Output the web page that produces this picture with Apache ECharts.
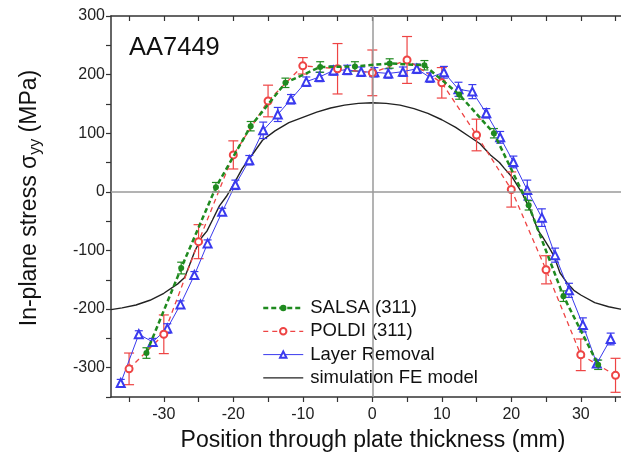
<!DOCTYPE html>
<html>
<head>
<meta charset="utf-8">
<script src="https://cdn.jsdelivr.net/npm/echarts@6/dist/echarts.min.js"></script>
<style>html,body{margin:0;padding:0;background:#fff}#c{width:621px;height:464px}</style>
</head>
<body>
<div id="c"></div>
<script>
// ---- data ----
const xTicks = [-35,-30,-25,-20,-15,-10,-5,0,5,10,15,20,25,30,35];
const xLabels = [-30,-20,-10,0,10,20,30];
const yLabels = [-300,-200,-100,0,100,200,300];

const salsaX = [-32.5,-27.5,-22.5,-17.5,-12.5,-7.5,-2.5,2.5,7.5,12.5,17.5,22.5,27.5,32.5];
const salsaY = [-275,-130,8,112,186,213,214,219,216,166,100,-23,-178,-295];
const salsaErr = [9,10,8,8,8,9,8,8,8,8,8,8,9,8];

const poldiX = [-35,-30,-25,-20,-15,-10,-5,0,5,10,15,20,25,30,35];
const poldiY = [-302,-243,-85,63,155,215,210,203,225,186,97,4,-133,-278,-313];
const poldiErr = [27,33,29,24,27,14,43,39,40,26,27,30,24,27,29];

const layerX = [-36.2,-33.6,-31.6,-29.5,-27.6,-25.6,-23.7,-21.6,-19.7,-17.7,-15.7,-13.6,-11.7,-9.5,-7.6,-5.6,-3.6,-1.6,0.3,2.3,4.4,6.4,8.3,10.3,12.4,14.4,16.4,18.4,20.3,22.3,24.4,26.3,28.3,30.3,32.3,34.3];
const layerY = [-326,-243,-256,-233,-192,-142,-88,-34,12,54,105,132,158,188,196,207,208,205,204,202,205,210,195,204,175,171,134,93,51,3,-44,-108,-168,-227,-293,-251];
const layerErr = [6,6,6,8,6,6,6,6,8,8,14,12,8,8,8,8,8,8,8,8,8,8,8,10,12,12,8,10,10,17,15,12,12,12,6,10];

const feX = [-37.6,-36,-34,-32,-30,-28,-27,-26.3,-25.5,-24.5,-23.8,-23,-22,-21,-20,-18.7,-17,-15.8,-14,-12,-10,-8,-6,-4,-2,0,2,4,6,8,10,12,14,15.5,17,18.3,19,20.2,21.6,23,23.8,24.5,25.5,26.2,27,28,29,30,32,34,35.7,37.6];
const feY = [-201,-198,-193,-185,-173,-157,-146,-125,-100,-77,-67,-48,-24,-8,12,40,68,88,104,118,127,136,143,148,151,152,151,148,142,134,123,110,94,82,63,50,40,24,-3,-38,-65,-77,-96,-111,-138,-155,-168,-176,-189,-196,-200,-202];

// ---- build ----
const zip = (xs, ys) => xs.map((x, i) => [x, ys[i]]);
const zip3 = (xs, ys, es) => xs.map((x, i) => [x, ys[i], es[i]]);

const FONT = 'Arial, "Liberation Sans", Helvetica, sans-serif';
const GREEN = '#1f8a1f', RED = '#ee4444', BLUE = '#3a3aee', BLACK = '#222';

function errSeries(name, data, color, capHalf) {
  return {
    name: name, type: 'custom', z: 3,
    data: data,
    encode: { x: 0, y: 1 },
    renderItem: function (params, api) {
      const x = api.value(0), y = api.value(1), e = api.value(2);
      const t = api.coord([x, y + e]);
      const b = api.coord([x, y - e]);
      const st = { stroke: color, lineWidth: 1.2 };
      return {
        type: 'group',
        children: [
          { type: 'line', shape: { x1: t[0], y1: t[1], x2: b[0], y2: b[1] }, style: st },
          { type: 'line', shape: { x1: t[0] - capHalf, y1: t[1], x2: t[0] + capHalf, y2: t[1] }, style: st },
          { type: 'line', shape: { x1: b[0] - capHalf, y1: b[1], x2: b[0] + capHalf, y2: b[1] }, style: st }
        ]
      };
    }
  };
}

const chart = echarts.init(document.getElementById('c'), null, { renderer: 'canvas' });
const XMIN = -37.6, XMAX = 37.6;
const axisLineStyle = { color: '#333', width: 1.5 };

chart.setOption({
  animation: false,
  backgroundColor: '#fff',
  textStyle: { fontFamily: FONT },
  grid: { left: 111, top: 16, width: 522.6, height: 381, containLabel: false, outerBoundsMode: 'none' },
  xAxis: [
    {
      type: 'value', min: XMIN, max: XMAX, position: 'bottom',
      axisLine: { show: true, onZero: false, lineStyle: axisLineStyle },
      axisTick: { show: true, inside: false, length: 5, customValues: xTicks, lineStyle: { color: '#333', width: 1.2 } },
      axisLabel: { customValues: xLabels, fontSize: 16, color: '#222', margin: 10, fontFamily: FONT },
      splitLine: { show: false }
    },
    {
      type: 'value', min: XMIN, max: XMAX, position: 'top',
      axisLine: { show: true, onZero: false, lineStyle: axisLineStyle },
      axisTick: { show: true, inside: true, length: 5, customValues: xTicks, lineStyle: { color: '#333', width: 1.2 } },
      axisLabel: { show: false },
      splitLine: { show: false }
    }
  ],
  yAxis: [
    {
      type: 'value', min: -350, max: 300, interval: 50,
      axisLine: { show: true, onZero: false, lineStyle: axisLineStyle },
      axisTick: { show: true, inside: false, length: 5, lineStyle: { color: '#333', width: 1.2 } },
      axisLabel: { customValues: yLabels, fontSize: 16, color: '#222', margin: 6, fontFamily: FONT },
      splitLine: { show: false }
    }
  ],
  legend: {
    orient: 'vertical', left: 256, top: 291,
    backgroundColor: '#fff',
    padding: [7, 8, 3, 6],
    itemWidth: 40, itemHeight: 8, itemGap: 3.3,
    textStyle: { fontSize: 18.5, color: '#111', fontFamily: FONT, lineHeight: 20, padding: [0, 0, 0, 2] },
    data: [
      { name: 'SALSA (311)', lineStyle: { width: 2.5 } },
      { name: 'POLDI (311)', lineStyle: { width: 1.3 } },
      { name: 'Layer Removal', lineStyle: { width: 1 } },
      { name: 'simulation FE model', lineStyle: { width: 1.4 }, itemStyle: { opacity: 0 } }
    ]
  },
  graphic: [
    { type: 'text', left: 129, top: 35, style: { text: 'AA7449', fontSize: 25.5, fill: '#111', fontFamily: FONT } },
    {
      type: 'text', x: 30, y: 198, rotation: Math.PI / 2,
      style: {
        text: '{a|In-plane stress σ}{s|yy}{a| (MPa)}',
        align: 'center', verticalAlign: 'middle',
        rich: {
          a: { fontSize: 23, fill: '#111', fontFamily: FONT },
          s: { fontSize: 16, fill: '#111', fontFamily: FONT, padding: [11, 0, 0, 0] }
        }
      }
    },
    {
      type: 'text', x: 373, y: 441,
      style: { text: 'Position through plate thickness (mm)', fontSize: 23, fill: '#111', fontFamily: FONT, align: 'center', verticalAlign: 'middle' }
    }
  ],
  series: [
    {
      name: 'zero-lines', type: 'line', data: [], z: 1, silent: true,
      markLine: {
        silent: true, symbol: 'none', animation: false, label: { show: false },
        lineStyle: { color: '#9a9a9a', width: 1.5, type: 'solid' },
        data: [{ xAxis: 0 }, { yAxis: 0 }]
      }
    },
    {
      name: 'simulation FE model', type: 'line', data: zip(feX, feY), z: 2,
      showSymbol: false, symbol: 'none', smooth: false,
      lineStyle: { color: BLACK, width: 1.4 }, itemStyle: { color: BLACK }
    },
    errSeries('poldi-err', zip3(poldiX, poldiY, poldiErr), RED, 5),
    errSeries('layer-err', zip3(layerX, layerY, layerErr), BLUE, 4),
    errSeries('salsa-err', zip3(salsaX, salsaY, salsaErr), GREEN, 4),
    {
      name: 'Layer Removal', type: 'line', data: zip(layerX, layerY), z: 4,
      symbol: 'emptyTriangle', symbolSize: 8,
      lineStyle: { color: BLUE, width: 1 },
      itemStyle: { color: BLUE, borderWidth: 1.3 }
    },
    {
      name: 'POLDI (311)', type: 'line', data: zip(poldiX, poldiY), z: 4,
      symbol: 'emptyCircle', symbolSize: 7,
      lineStyle: { color: RED, width: 1.3, type: [5, 4] },
      itemStyle: { color: RED, borderWidth: 1.2 }
    },
    {
      name: 'SALSA (311)', type: 'line', data: zip(salsaX, salsaY), z: 5,
      symbol: 'circle', symbolSize: 6,
      lineStyle: { color: GREEN, width: 2.5, type: [5, 3] },
      itemStyle: { color: GREEN }
    }
  ]
});
</script>
</body>
</html>
